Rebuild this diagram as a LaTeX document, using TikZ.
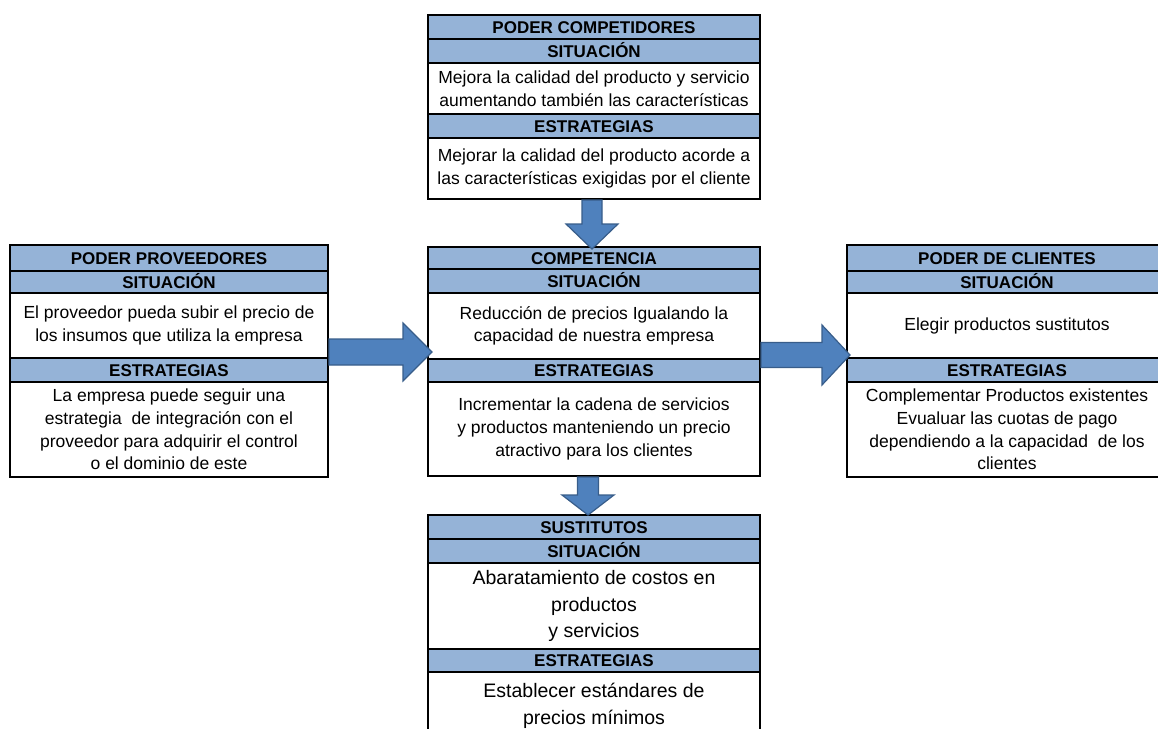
\documentclass[tikz,border=0pt]{standalone}
\usepackage{fontspec}
\setmainfont{Liberation Sans}
\usetikzlibrary{positioning, calc}
\definecolor{hdrblue}{RGB}{149,179,215}
\definecolor{arrowblue}{RGB}{79,129,189}
\definecolor{arrowedge}{RGB}{56,93,138}

\begin{document}
\begin{tikzpicture}[x=1pt, y=-1pt,
        % Styles
        hdr/.style={draw, line width=2pt, fill=hdrblue, inner sep=0pt, outer sep=0pt, text height=12.3pt, text depth=0pt, font=\fontsize{17}{20}\selectfont\bfseries},
        cell/.style={draw, line width=2pt, fill=white, inner sep=0pt, outer sep=0pt, align=center, font=\fontsize{17.5}{22.7}\selectfont},
        bigcell/.style={cell, font=\fontsize{19.5}{26.5}\selectfont},
        bigarrow/.style={fill=arrowblue, draw=arrowedge, line width=1.2pt, line join=miter},
    ]
        \path[use as bounding box, clip] (0,0) rectangle (1158,728);

        % === PODER COMPETIDORES (top) ===
        \node[hdr, minimum width=332pt, minimum height=24pt, anchor=north west] (compT) at (428,15) {PODER COMPETIDORES};
        \node[hdr, minimum width=332pt, minimum height=24pt, below=0pt of compT] (compS) {SITUACIÓN};
        \node[cell, minimum width=332pt, minimum height=51pt, below=0pt of compS] (compSB) {Mejora la calidad del producto y servicio\\aumentando también las características};
        \node[hdr, minimum width=332pt, minimum height=24pt, below=0pt of compSB] (compE) {ESTRATEGIAS};
        \node[cell, minimum width=332pt, minimum height=61pt, below=0pt of compE] (compEB) {Mejorar la calidad del producto acorde a\\las características exigidas por el cliente};

        % === PODER PROVEEDORES (left) ===
        \node[hdr, minimum width=318pt, minimum height=26pt, anchor=north west] (provT) at (10,245) {PODER PROVEEDORES};
        \node[hdr, minimum width=318pt, minimum height=22pt, below=0pt of provT] (provS) {SITUACIÓN};
        \node[cell, minimum width=318pt, minimum height=65pt, below=0pt of provS] (provSB) {El proveedor pueda subir el precio de\\los insumos que utiliza la empresa};
        \node[hdr, minimum width=318pt, minimum height=24pt, below=0pt of provSB] (provE) {ESTRATEGIAS};
        \node[cell, minimum width=318pt, minimum height=95pt, below=0pt of provE] (provEB) {La empresa puede seguir una\\estrategia\ \ de integración con el\\proveedor para adquirir el control\\o el dominio de este};

        % === COMPETENCIA (center) ===
        \node[hdr, minimum width=332pt, minimum height=22pt, anchor=north west] (cenT) at (428,247) {COMPETENCIA};
        \node[hdr, minimum width=332pt, minimum height=24pt, below=0pt of cenT] (cenS) {SITUACIÓN};
        \node[cell, minimum width=332pt, minimum height=66pt, below=0pt of cenS] (cenSB) {Reducción de precios Igualando la\\capacidad de nuestra empresa};
        \node[hdr, minimum width=332pt, minimum height=23pt, below=0pt of cenSB] (cenE) {ESTRATEGIAS};
        \node[cell, minimum width=332pt, minimum height=94pt, below=0pt of cenE] (cenEB) {Incrementar la cadena de servicios\\y productos manteniendo un precio\\atractivo para los clientes};

        % === PODER DE CLIENTES (right) ===
        \node[hdr, minimum width=320pt, minimum height=26pt, anchor=north west] (cliT) at (847,245) {PODER DE CLIENTES};
        \node[hdr, minimum width=320pt, minimum height=22pt, below=0pt of cliT] (cliS) {SITUACIÓN};
        \node[cell, minimum width=320pt, minimum height=65pt, below=0pt of cliS] (cliSB) {Elegir productos sustitutos};
        \node[hdr, minimum width=320pt, minimum height=24pt, below=0pt of cliSB] (cliE) {ESTRATEGIAS};
        \node[cell, minimum width=320pt, minimum height=95pt, below=0pt of cliE] (cliEB) {Complementar Productos existentes\\Evualuar las cuotas de pago\\dependiendo a la capacidad\ \ de los\\clientes};

        % === SUSTITUTOS (bottom) ===
        \node[hdr, minimum width=332pt, minimum height=24pt, anchor=north west] (susT) at (428,515) {SUSTITUTOS};
        \node[hdr, minimum width=332pt, minimum height=24pt, below=0pt of susT] (susS) {SITUACIÓN};
        \node[bigcell, minimum width=332pt, minimum height=86pt, below=0pt of susS] (susSB) {Abaratamiento de costos en\\productos\\ y servicios};
        \node[hdr, minimum width=332pt, minimum height=23pt, below=0pt of susSB] (susE) {ESTRATEGIAS};
        \node[bigcell, minimum width=332pt, minimum height=68pt, below=0pt of susE] (susEB) {Establecer estándares de\\precios mínimos};

        % === BLOCK ARROWS ===
        % competidores -> competencia
        \draw[bigarrow] let \p1=([xshift=-2pt, yshift=-1pt]compEB.south), \p2=([yshift=-2pt]cenT.north) in
            (\x1-10,\y1) -- (\x1+10,\y1) -- (\x1+10,\y2+25) -- (\x1+26,\y2+25) -- (\x1,\y2)
            -- (\x1-26,\y2+25) -- (\x1-10,\y2+25) -- cycle;

        % competencia -> sustitutos
        \draw[bigarrow] let \p1=([xshift=-6pt, yshift=-1pt]cenEB.south), \p2=(susT.north) in
            (\x1-10.5,\y1) -- (\x1+10.5,\y1) -- (\x1+10.5,\y2+20) -- (\x1+26,\y2+20) -- (\x1,\y2)
            -- (\x1-26,\y2+20) -- (\x1-10.5,\y2+20) -- cycle;

        % proveedores -> competencia
        \draw[bigarrow] let \p1=([xshift=1pt, yshift=6pt]provSB.south east), \p2=([xshift=4pt]cenSB.west) in
            (\x1,\y1+13) -- (\x2-29,\y1+13) -- (\x2-29,\y1+29) -- (\x2,\y1)
            -- (\x2-29,\y1-29) -- (\x2-29,\y1-13) -- (\x1,\y1-13) -- cycle;

        % competencia -> clientes
        \draw[bigarrow] let \p1=([xshift=1pt, yshift=4pt]cenSB.south east), \p2=([xshift=3pt]cliSB.west) in
            (\x1,\y1+12.5) -- (\x2-28,\y1+12.5) -- (\x2-28,\y1+30) -- (\x2,\y1)
            -- (\x2-28,\y1-30) -- (\x2-28,\y1-12.5) -- (\x1,\y1-12.5) -- cycle;

    \end{tikzpicture}
\end{document}
